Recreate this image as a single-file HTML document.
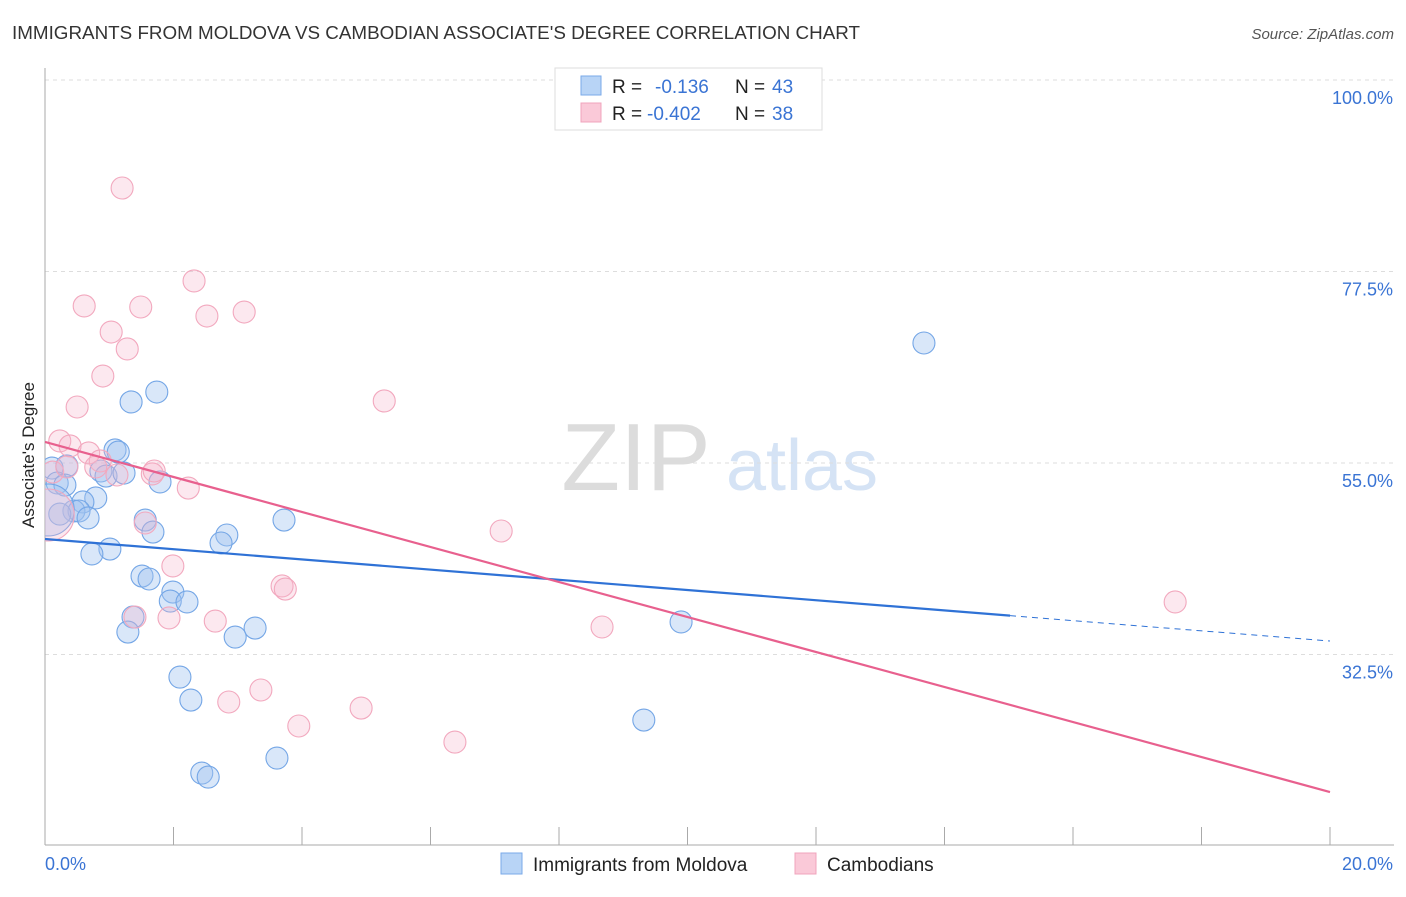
<!DOCTYPE html>
<html><head><meta charset="utf-8">
<style>
body{margin:0;background:#fff;font-family:"Liberation Sans",sans-serif;}
svg text{font-family:"Liberation Sans",sans-serif;}
</style></head>
<body>
<svg id="chart" width="1406" height="892" xmlns="http://www.w3.org/2000/svg">
<defs><clipPath id="plotclip"><rect x="45" y="60" width="1360" height="785"/></clipPath></defs>
<text x="12" y="39" font-size="18" fill="#333" textLength="848" lengthAdjust="spacingAndGlyphs">IMMIGRANTS FROM MOLDOVA VS CAMBODIAN ASSOCIATE'S DEGREE CORRELATION CHART</text>
<text x="1394" y="39" font-size="15" fill="#555" font-style="italic" text-anchor="end">Source: ZipAtlas.com</text>
<text transform="translate(34,455) rotate(-90)" font-size="17" fill="#222" text-anchor="middle">Associate's Degree</text>
<g>
<text x="636" y="490" font-size="96" fill="#dcdcdc" text-anchor="middle" font-family="Liberation Serif">ZIP</text>
<text x="802" y="490" font-size="72" fill="#d5e3f5" text-anchor="middle">atlas</text>
</g>
<g id="grid"></g>
<g id="axes"></g>
<g id="points" clip-path="url(#plotclip)"></g>
<g id="lines"></g>
<g>
<rect x="555" y="68" width="267" height="62" fill="#fff" stroke="#ddd"/>
<rect x="581" y="76" width="20" height="19" fill="#b8d4f6" stroke="#7aaae8"/>
<rect x="581" y="103" width="20" height="19" fill="#fac9d8" stroke="#f0a4bc"/>
<text x="612" y="93" font-size="19" fill="#222">R =</text><text x="655" y="93" font-size="19" fill="#3a74d4">-0.136</text>
<text x="735" y="93" font-size="19" fill="#222">N =</text><text x="772" y="93" font-size="19" fill="#3a74d4">43</text>
<text x="612" y="120" font-size="19" fill="#222">R =</text><text x="647" y="120" font-size="19" fill="#3a74d4">-0.402</text>
<text x="735" y="120" font-size="19" fill="#222">N =</text><text x="772" y="120" font-size="19" fill="#3a74d4">38</text>
</g>
<g>
<rect x="501" y="853" width="21" height="21" fill="#b8d4f6" stroke="#7aaae8"/>
<text x="533" y="871" font-size="19" fill="#222">Immigrants from Moldova</text>
<rect x="795" y="853" width="21" height="21" fill="#fac9d8" stroke="#f0a4bc"/>
<text x="827" y="871" font-size="19" fill="#222">Cambodians</text>
</g>
</svg>
<script>
const yTicks=[32.5,55,77.5,100];
const yTickLabels=["32.5%","55.0%","77.5%","100.0%"];
const xTicks=[0,2,4,6,8,10,12,14,16,18,20];
const blueX=[0.11,0.34,0.19,0.31,0.79,0.59,0.45,0.53,0.23,0.67,0.87,0.95,1.23,1.09,1.14,1.34,1.74,1.79,1.56,1.68,1.01,0.73,1.51,1.62,1.99,1.95,2.21,1.37,1.29,2.83,2.74,3.72,3.27,2.96,2.10,2.27,2.44,2.54,3.61,13.68,9.90,9.32,0.05];
const blueY=[54.41,54.65,52.65,52.41,50.89,50.42,49.36,49.36,49.0,48.54,54.06,53.47,53.82,56.53,56.29,62.17,63.34,52.77,48.30,46.89,44.89,44.31,41.72,41.37,39.84,38.78,38.67,36.90,35.14,46.54,45.60,48.30,35.61,34.55,29.85,27.15,18.57,18.10,20.33,69.10,36.32,24.80,49.48];
const pinkX=[1.20,2.32,0.61,1.49,2.52,3.10,1.03,1.28,0.90,0.50,5.28,0.23,0.39,0.68,0.86,0.79,0.12,0.34,1.12,1.67,1.70,2.23,1.56,1.99,1.93,1.40,2.65,3.69,3.74,3.36,2.86,3.95,4.92,6.38,7.10,8.67,17.59,0.05];
const pinkY=[87.31,76.39,73.45,73.33,72.27,72.74,70.39,68.40,65.22,61.58,62.29,57.59,57.0,56.18,55.24,54.53,53.94,54.53,53.59,53.71,54.06,52.06,47.95,42.90,36.79,36.90,36.43,40.55,40.19,28.33,26.92,24.10,26.21,22.21,47.01,35.73,38.67,48.89];
const blueTrend=[46.07,34.08];
const blueSolidEnd=15.02;
const pinkTrend=[57.47,16.34];
const NS="http://www.w3.org/2000/svg";
const xs=v=>45+v*64.25;
const ys=v=>463-(v-55)*8.511;
function mk(t,a,p){const e=document.createElementNS(NS,t);for(const k in a)e.setAttribute(k,a[k]);p.appendChild(e);return e;}
const grid=document.getElementById('grid'),axes=document.getElementById('axes'),pts=document.getElementById('points'),lines=document.getElementById('lines');
yTicks.forEach((t,i)=>{
  const g=mk('line',{x1:45,x2:1394,y1:ys(t),y2:ys(t),stroke:'#ddd','stroke-dasharray':'4,4'},grid);
  
  
  const tx=mk('text',{x:1393,y:ys(t)+24,'font-size':18,fill:'#3a74d4','text-anchor':'end'},axes);
  tx.textContent=yTickLabels[i];
  
  
});
const ax=mk('line',{x1:45,x2:45,y1:68,y2:845,stroke:'#aaa'},axes);


const bx=mk('line',{x1:45,x2:1394,y1:845,y2:845,stroke:'#aaa'},axes);


xTicks.forEach(t=>{
  const l=mk('line',{x1:xs(t),x2:xs(t),y1:827,y2:845,stroke:'#aaa'},axes);
  
  
});
const xl0=mk('text',{x:45,y:870,'font-size':18,fill:'#3a74d4'},axes);xl0.textContent='0.0%';


const xl1=mk('text',{x:1393,y:870,'font-size':18,fill:'#3a74d4','text-anchor':'end'},axes);xl1.textContent='20.0%';


function drawPts(X,Y,fill,stroke,name){
  X.forEach((x,i)=>{
    const big=(i===X.length-1);
    const c=mk('circle',{cx:xs(x),cy:ys(Y[i]),r:big?26:11,fill:fill,stroke:stroke,'stroke-width':1.1},pts);
    
    
  });
}
drawPts(blueX,blueY,'rgba(160,196,240,0.4)','#74a6e6','moldova-point');
drawPts(pinkX,pinkY,'rgba(246,180,202,0.3)','#f2a8be','cambodian-point');
const by=x=>blueTrend[0]+(blueTrend[1]-blueTrend[0])*x/20;
const bl=mk('line',{x1:xs(0),y1:ys(by(0)),x2:xs(blueSolidEnd),y2:ys(by(blueSolidEnd)),stroke:'#2f72d6','stroke-width':2.2},lines);


const bd=mk('line',{x1:xs(blueSolidEnd),y1:ys(by(blueSolidEnd)),x2:xs(20),y2:ys(by(20)),stroke:'#2f72d6','stroke-width':1,'stroke-dasharray':'6,5'},lines);


const pl=mk('line',{x1:xs(0),y1:ys(pinkTrend[0]),x2:xs(20),y2:ys(pinkTrend[1]),stroke:'#e8608e','stroke-width':2.2},lines);


</script>
</body></html>
